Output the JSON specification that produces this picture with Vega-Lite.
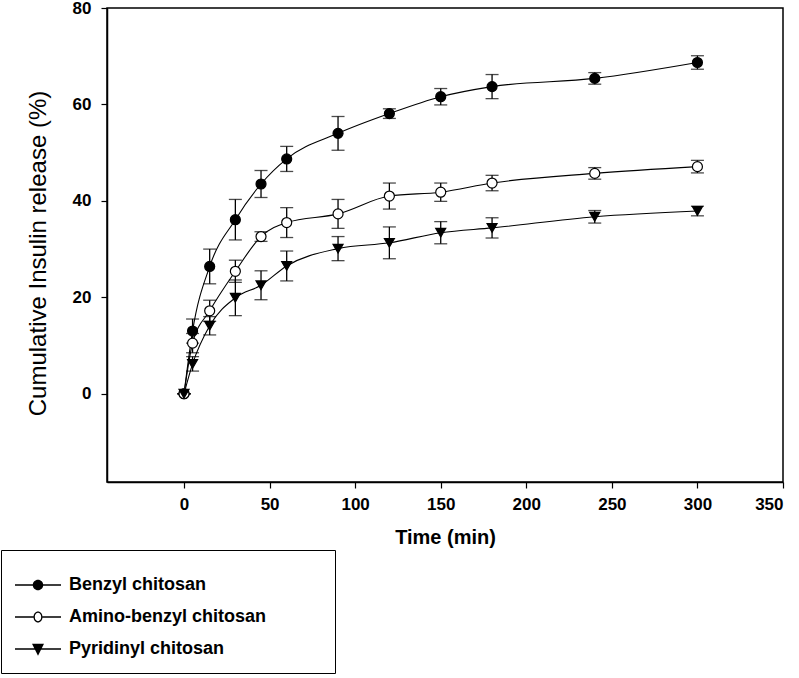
{
  "$schema": "https://vega.github.io/schema/vega-lite/v6.json",
  "width": 676,
  "height": 474,
  "autosize": {"type": "none"},
  "padding": {"left": 107, "top": 8, "right": 16, "bottom": 196},
  "background": "white",
  "config": {
    "view": {"stroke": "black", "strokeWidth": 1.5},
    "axis": {
      "grid": false,
      "domainColor": "black",
      "domainWidth": 1.5,
      "tickColor": "black",
      "tickWidth": 1.2,
      "tickSize": 6,
      "labelFont": "Liberation Sans",
      "labelFontWeight": "bold",
      "labelFontSize": 17,
      "labelColor": "black",
      "titleColor": "black",
      "titleFont": "Liberation Sans"
    }
  },
  "data": {
    "values": [
      {"series": "Benzyl chitosan", "t": 0, "v": 0, "e": 0},
      {"series": "Benzyl chitosan", "t": 5, "v": 13.0, "e": 2.5},
      {"series": "Benzyl chitosan", "t": 15, "v": 26.4, "e": 3.6},
      {"series": "Benzyl chitosan", "t": 30, "v": 36.1, "e": 4.2},
      {"series": "Benzyl chitosan", "t": 45, "v": 43.5, "e": 2.8},
      {"series": "Benzyl chitosan", "t": 60, "v": 48.7, "e": 2.6},
      {"series": "Benzyl chitosan", "t": 90, "v": 54.0, "e": 3.5},
      {"series": "Benzyl chitosan", "t": 120, "v": 58.1, "e": 1.0},
      {"series": "Benzyl chitosan", "t": 150, "v": 61.6, "e": 1.7},
      {"series": "Benzyl chitosan", "t": 180, "v": 63.7, "e": 2.5},
      {"series": "Benzyl chitosan", "t": 240, "v": 65.4, "e": 1.2},
      {"series": "Benzyl chitosan", "t": 300, "v": 68.7, "e": 1.4},
      {"series": "Amino-benzyl chitosan", "t": 0, "v": 0, "e": 0},
      {"series": "Amino-benzyl chitosan", "t": 5, "v": 10.5, "e": 2.0},
      {"series": "Amino-benzyl chitosan", "t": 15, "v": 17.2, "e": 2.2},
      {"series": "Amino-benzyl chitosan", "t": 30, "v": 25.4, "e": 2.3},
      {"series": "Amino-benzyl chitosan", "t": 45, "v": 32.6, "e": 1.0},
      {"series": "Amino-benzyl chitosan", "t": 60, "v": 35.5, "e": 3.1},
      {"series": "Amino-benzyl chitosan", "t": 90, "v": 37.3, "e": 3.0},
      {"series": "Amino-benzyl chitosan", "t": 120, "v": 41.0, "e": 2.7},
      {"series": "Amino-benzyl chitosan", "t": 150, "v": 41.8, "e": 1.9},
      {"series": "Amino-benzyl chitosan", "t": 180, "v": 43.7, "e": 1.6},
      {"series": "Amino-benzyl chitosan", "t": 240, "v": 45.7, "e": 1.2},
      {"series": "Amino-benzyl chitosan", "t": 300, "v": 47.1, "e": 1.3},
      {"series": "Pyridinyl chitosan", "t": 0, "v": 0, "e": 0},
      {"series": "Pyridinyl chitosan", "t": 5, "v": 6.2, "e": 1.5},
      {"series": "Pyridinyl chitosan", "t": 15, "v": 14.1, "e": 1.9},
      {"series": "Pyridinyl chitosan", "t": 30, "v": 19.9, "e": 3.7},
      {"series": "Pyridinyl chitosan", "t": 45, "v": 22.5, "e": 3.0},
      {"series": "Pyridinyl chitosan", "t": 60, "v": 26.5, "e": 3.1},
      {"series": "Pyridinyl chitosan", "t": 90, "v": 30.1, "e": 2.5},
      {"series": "Pyridinyl chitosan", "t": 120, "v": 31.3, "e": 3.3},
      {"series": "Pyridinyl chitosan", "t": 150, "v": 33.4, "e": 2.3},
      {"series": "Pyridinyl chitosan", "t": 180, "v": 34.4, "e": 2.1},
      {"series": "Pyridinyl chitosan", "t": 240, "v": 36.7, "e": 1.3},
      {"series": "Pyridinyl chitosan", "t": 300, "v": 37.9, "e": 1.0}
    ]
  },
  "encoding": {
    "x": {
      "field": "t",
      "type": "quantitative",
      "scale": {"domain": [-45, 350], "nice": false, "zero": false},
      "axis": {
        "values": [0, 50, 100, 150, 200, 250, 300, 350],
        "title": "Time (min)",
        "titleFontSize": 20,
        "titleFontWeight": "bold",
        "titleY": 55,
        "titleBaseline": "middle",
        "labelPadding": 8
      }
    },
    "y": {
      "field": "v",
      "type": "quantitative",
      "scale": {"domain": [-18.3, 80], "nice": false, "zero": false},
      "axis": {
        "values": [0, 20, 40, 60, 80],
        "title": "Cumulative Insulin release (%)",
        "titleFontSize": 24,
        "titleFontWeight": "normal",
        "titleX": -69,
        "titleY": 245,
        "titleBaseline": "middle",
        "titleAlign": "center",
        "labelPadding": 10
      }
    }
  },
  "layer": [
    {
      "mark": {"type": "line", "color": "black", "strokeWidth": 1.1, "interpolate": "monotone"},
      "encoding": {"detail": {"field": "series"}}
    },
    {
      "mark": {"type": "errorbar", "color": "black", "ticks": true, "size": 13, "thickness": 1.3},
      "encoding": {
        "yError": {"field": "e"},
        "detail": {"field": "series"}
      }
    },
    {
      "mark": {"type": "point", "filled": true, "stroke": "black", "strokeWidth": 1.2, "opacity": 1, "size": 100},
      "encoding": {
        "shape": {
          "condition": {"test": "datum.series === 'Pyridinyl chitosan'", "value": "triangle-down"},
          "value": "circle"
        },
        "fill": {
          "condition": {"test": "datum.series === 'Amino-benzyl chitosan'", "value": "white"},
          "value": "black"
        }
      }
    },
    {
      "mark": {"type": "point", "filled": true, "fill": "black", "strokeWidth": 0, "opacity": 0, "size": 100},
      "encoding": {
        "shape": {
          "field": "series",
          "type": "nominal",
          "scale": {
            "domain": ["Benzyl chitosan", "Amino-benzyl chitosan", "Pyridinyl chitosan"],
            "range": [
              "M-4.6,-0.15H4.6V0.15H-4.6ZM1.05,0A1.05,1.05,0,1,1,-1.05,0A1.05,1.05,0,1,1,1.05,0ZM56.4,0",
              "M-4.6,-0.15H-0.9V0.15H-4.6ZM0.9,-0.15H4.6V0.15H0.9ZM0.9,0A0.9,1.1,0,1,1,-0.9,0A0.9,1.1,0,1,1,0.9,0ZM0.64,0A0.64,0.84,0,1,0,-0.64,0A0.64,0.84,0,1,0,0.64,0ZM56.4,0",
              "M-4.6,-0.15H4.6V0.15H-4.6ZM-1.2,-1.05L1.2,-1.05L0,1.35ZM56.4,0"
            ]
          },
          "legend": {
            "orient": "none",
            "legendX": -106,
            "legendY": 542,
            "title": " ",
            "titleFontSize": 6,
            "titlePadding": 5,
            "padding": 15,
            "strokeColor": "black",
            "symbolSize": 100,
            "symbolOffset": 13,
            "symbolOpacity": 1,
            "symbolFillColor": "black",
            "symbolStrokeWidth": 0,
            "labelOffset": 22,
            "rowPadding": 14,
            "labelFont": "Liberation Sans",
            "labelFontWeight": "bold",
            "labelFontSize": 18,
            "labelColor": "black",
            "labelLimit": 400,
            "encode": {
              "legend": {"strokeWidth": {"value": 2}},
              "symbols": {
                "fill": {"value": "black"},
                "fillOpacity": {"value": 1},
                "opacity": {"value": 1}
              }
            }
          }
        }
      }
    }
  ]
}
